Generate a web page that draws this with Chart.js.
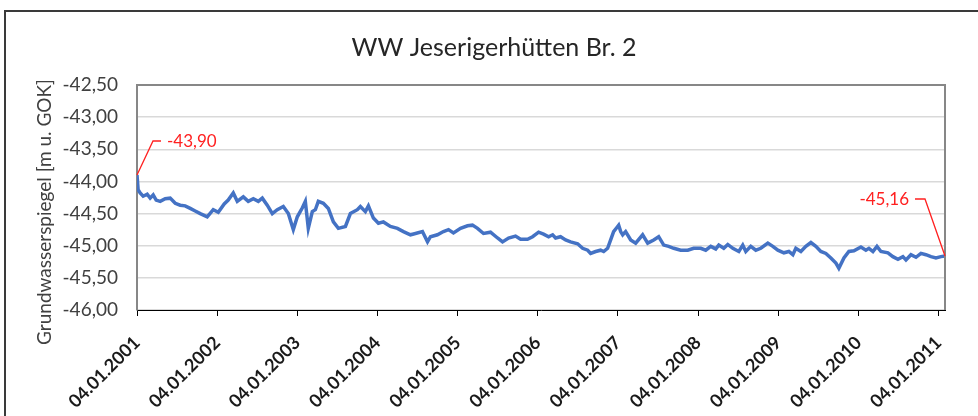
<!DOCTYPE html>
<html>
<head>
<meta charset="utf-8">
<script src="https://cdn.jsdelivr.net/npm/chart.js@4/dist/chart.umd.min.js"></script>
<style>
html,body{margin:0;padding:0;background:#fff;}
#wrap{position:relative;width:978px;height:416px;}
</style>
</head>
<body>
<div id="wrap"><canvas id="c" width="978" height="416"></canvas></div>
<script>
const chartTitle = 'WW Jeserigerhütten Br. 2';
const yAxisTitle = 'Grundwasserspiegel [m u. GOK]';
const tickLabels = ['04.01.2001','04.01.2002','04.01.2003','04.01.2004','04.01.2005','04.01.2006','04.01.2007','04.01.2008','04.01.2009','04.01.2010','04.01.2011'];
const yTickValues = [-46.0,-45.5,-45.0,-44.5,-44.0,-43.5,-43.0,-42.5];

const sampleYears = [
2001.008,2001.022,2001.047,2001.085,2001.135,2001.172,2001.210,2001.247,2001.297,2001.360,
2001.422,2001.485,2001.547,2001.609,2001.672,2001.734,2001.797,2001.884,2001.959,2002.022,
2002.096,2002.146,2002.209,2002.259,2002.334,2002.396,2002.459,2002.521,2002.571,2002.633,
2002.696,2002.758,2002.833,2002.896,2002.958,2003.008,2003.071,2003.108,2003.145,2003.195,
2003.233,2003.270,2003.333,2003.395,2003.458,2003.520,2003.608,2003.670,2003.757,2003.795,
2003.857,2003.895,2003.957,2004.020,2004.082,2004.169,2004.257,2004.332,2004.419,2004.482,
2004.569,2004.632,2004.669,2004.756,2004.831,2004.894,2004.956,2005.044,2005.131,2005.193,
2005.256,2005.331,2005.418,2005.506,2005.568,2005.643,2005.730,2005.793,2005.880,2005.943,
2006.018,2006.080,2006.143,2006.193,2006.230,2006.292,2006.355,2006.417,2006.505,2006.567,
2006.630,2006.667,2006.730,2006.792,2006.830,2006.879,2006.917,2006.954,2006.992,2007.017,
2007.042,2007.067,2007.104,2007.167,2007.229,2007.316,2007.379,2007.454,2007.516,2007.579,
2007.641,2007.704,2007.791,2007.879,2007.953,2008.041,2008.103,2008.166,2008.228,2008.266,
2008.328,2008.378,2008.441,2008.516,2008.565,2008.603,2008.665,2008.728,2008.790,2008.878,
2008.940,2009.003,2009.078,2009.140,2009.190,2009.227,2009.290,2009.352,2009.415,2009.477,
2009.539,2009.602,2009.664,2009.727,2009.764,2009.827,2009.889,2009.952,2010.039,2010.101,
2010.139,2010.189,2010.239,2010.289,2010.376,2010.438,2010.501,2010.563,2010.601,2010.663,
2010.726,2010.788,2010.850,2010.913,2010.975,2011.038,2011.088
];

// groundwater level [m below ground]
const levels = [
-43.90,-44.13,-44.18,-44.23,-44.20,-44.26,-44.21,-44.29,-44.31,-44.27,
-44.26,-44.34,-44.37,-44.38,-44.42,-44.46,-44.50,-44.55,-44.44,-44.48,
-44.35,-44.29,-44.18,-44.31,-44.24,-44.31,-44.27,-44.31,-44.26,-44.37,
-44.50,-44.44,-44.39,-44.50,-44.75,-44.55,-44.41,-44.31,-44.73,-44.47,
-44.44,-44.31,-44.34,-44.42,-44.63,-44.73,-44.70,-44.50,-44.44,-44.39,
-44.47,-44.38,-44.57,-44.65,-44.63,-44.70,-44.73,-44.78,-44.83,-44.81,
-44.78,-44.94,-44.86,-44.83,-44.78,-44.75,-44.80,-44.73,-44.69,-44.68,
-44.73,-44.81,-44.79,-44.88,-44.94,-44.88,-44.85,-44.90,-44.90,-44.86,
-44.79,-44.82,-44.86,-44.83,-44.88,-44.86,-44.91,-44.94,-44.97,-45.04,
-45.07,-45.12,-45.09,-45.07,-45.09,-45.04,-44.91,-44.78,-44.72,-44.68,
-44.78,-44.83,-44.78,-44.91,-44.96,-44.83,-44.96,-44.91,-44.86,-44.99,
-45.01,-45.04,-45.07,-45.07,-45.04,-45.04,-45.07,-45.01,-45.05,-44.99,
-45.04,-44.98,-45.04,-45.09,-44.99,-45.09,-45.01,-45.07,-45.04,-44.96,
-45.01,-45.07,-45.11,-45.09,-45.14,-45.04,-45.09,-45.01,-44.95,-45.01,
-45.09,-45.12,-45.19,-45.27,-45.35,-45.19,-45.09,-45.08,-45.02,-45.07,
-45.04,-45.09,-45.01,-45.09,-45.11,-45.17,-45.21,-45.17,-45.22,-45.14,
-45.18,-45.12,-45.14,-45.17,-45.19,-45.17,-45.16
];

const FONT = 'Lato, "Open Sans", "Liberation Sans", sans-serif';
const fmt = v => Number(v).toFixed(2).replace('.', ',');
function labelToYear(s){
  const [d,m,y] = s.split('.').map(Number);
  const doy = (Date.UTC(y,m-1,d) - Date.UTC(y,0,1)) / 86400000;
  return y + doy / 365.25;
}
const tickPositions = tickLabels.map(labelToYear);

const decor = {
  id: 'decor',
  afterDraw(chart){
    const ctx = chart.ctx, a = chart.chartArea;
    ctx.save();
    // outer chart frame
    ctx.strokeStyle = '#3a3a3a'; ctx.lineWidth = 2;
    ctx.beginPath(); ctx.moveTo(5, 416); ctx.lineTo(5, 11); ctx.lineTo(978, 11); ctx.stroke();
    // plot frame top / right
    ctx.strokeStyle = '#878787'; ctx.lineWidth = 2;
    ctx.beginPath(); ctx.moveTo(a.left, a.top); ctx.lineTo(a.right, a.top); ctx.lineTo(a.right, a.bottom); ctx.stroke();
    // title
    ctx.fillStyle = '#262626'; ctx.font = '25px ' + FONT;
    ctx.textAlign = 'center'; ctx.textBaseline = 'middle';
    ctx.fillText(chartTitle, 494, 48);
    // y axis title
    ctx.save();
    ctx.translate(45, 212); ctx.rotate(-Math.PI/2);
    ctx.fillStyle = '#404040'; ctx.font = '19px ' + FONT;
    ctx.fillText(yAxisTitle, 0, 0);
    ctx.restore();
    // data labels first / last
    const meta = chart.getDatasetMeta(0);
    const p0 = meta.data[0], pn = meta.data[meta.data.length-1];
    ctx.strokeStyle = '#ff2020'; ctx.lineWidth = 1.3; ctx.fillStyle = '#ff2020';
    ctx.font = '17px ' + FONT; ctx.textBaseline = 'middle';
    ctx.beginPath(); ctx.moveTo(p0.x, p0.y); ctx.lineTo(p0.x+16, p0.y-34); ctx.lineTo(p0.x+24, p0.y-34); ctx.stroke();
    ctx.textAlign = 'left'; ctx.fillText(fmt(levels[0]), p0.x+30, p0.y-33);
    ctx.beginPath(); ctx.moveTo(pn.x, pn.y); ctx.lineTo(pn.x-20, pn.y-57); ctx.lineTo(pn.x-30, pn.y-57); ctx.stroke();
    ctx.textAlign = 'right'; ctx.fillText(fmt(levels[levels.length-1]), pn.x-36, pn.y-56);
    ctx.restore();
  }
};

new Chart(document.getElementById('c'), {
  type: 'line',
  data: {
    datasets: [{
      data: sampleYears.map((x,i) => ({x, y: levels[i]})),
      borderColor: '#4472c4',
      borderWidth: 3.5,
      pointRadius: 0,
      tension: 0,
      fill: false
    }]
  },
  options: {
    responsive: false,
    animation: false,
    layout: { padding: { left: 30, right: 33, top: 85, bottom: 0 } },
    plugins: { legend: { display: false }, title: { display: false }, tooltip: { enabled: false } },
    scales: {
      x: {
        type: 'linear',
        min: sampleYears[0],
        max: sampleYears[sampleYears.length-1],
        afterBuildTicks: s => { s.ticks = tickPositions.map(v => ({ value: v })); },
        afterFit: s => { s.height = 106; },
        ticks: {
          autoSkip: false, minRotation: 45, maxRotation: 45, padding: 16,
          color: '#1a1a1a', font: { family: FONT, size: 18, weight: 'bold' },
          callback: (v, i) => tickLabels[i]
        },
        grid: { drawOnChartArea: false, drawTicks: true, tickLength: 6, color: '#000', lineWidth: 1 },
        border: { color: '#000', width: 1 }
      },
      y: {
        min: -46, max: -42.5,
        afterBuildTicks: s => { s.ticks = yTickValues.map(v => ({ value: v })); },
        afterFit: s => { s.width = 107; },
        ticks: { padding: 19, color: '#404040', font: { family: FONT, size: 19 }, callback: v => fmt(v) },
        grid: { color: '#d9d9d9', lineWidth: 1.5, drawTicks: false },
        border: { color: '#878787', width: 2 }
      }
    }
  },
  plugins: [decor]
});
</script>
</body>
</html>
